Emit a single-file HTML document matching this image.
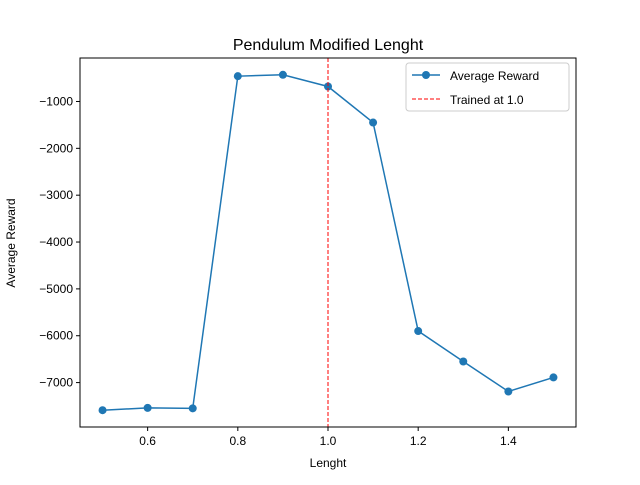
<!DOCTYPE html>
<html><head><meta charset="utf-8"><style>body{margin:0;background:#fff}svg{font-family:"Liberation Sans","DejaVu Sans",sans-serif}</style></head>
<body>
<svg id="c" width="640" height="480"></svg>
<script>
const lengths=[0.5,0.6,0.7,0.8,0.9,1.0,1.1,1.2,1.3,1.4,1.5];
const rewards=[-7590,-7540,-7550,-460,-430,-680,-1450,-5900,-6550,-7190,-6890];
const xTicks=[0.6,0.8,1.0,1.2,1.4];
const yTicks=[-1000,-2000,-3000,-4000,-5000,-6000,-7000];
const trainedAt=1.0;
const L=80,R=576,T=58,B=427;
const ns="http://www.w3.org/2000/svg";
const svg=document.getElementById('c');
const xmin=Math.min(...lengths),xmax=Math.max(...lengths),xr=xmax-xmin;
const ymin=Math.min(...rewards),ymax=Math.max(...rewards),yr=ymax-ymin;
const x0=xmin-0.05*xr,x1=xmax+0.05*xr,y0=ymin-0.05*yr,y1=ymax+0.05*yr;
const X=v=>L+(v-x0)/(x1-x0)*(R-L);
const Y=v=>B-(v-y0)/(y1-y0)*(B-T);
function mk(t,a,txt){const e=document.createElementNS(ns,t);for(const k in a)e.setAttribute(k,a[k]);if(txt!=null)e.textContent=txt;svg.appendChild(e);return e;}
let e;
e=mk('text',{x:328,y:50,'text-anchor':'middle','font-size':16},'Pendulum Modified Lenght');


xTicks.forEach(v=>{const g=X(v);
e=mk('line',{x1:g,x2:g,y1:B,y2:B+4,stroke:'#000'});


e=mk('text',{x:g,y:B+18,'text-anchor':'middle','font-size':12},v.toFixed(1));

});
yTicks.forEach(v=>{const g=Y(v);
e=mk('line',{x1:L-4,x2:L,y1:g,y2:g,stroke:'#000'});


e=mk('text',{x:L-7,y:g+4,'text-anchor':'end','font-size':12},'\u2212'+Math.abs(v));

});
e=mk('text',{x:328,y:467,'text-anchor':'middle','font-size':12},'Lenght');


e=mk('text',{x:15,y:243,'text-anchor':'middle','font-size':12,transform:'rotate(-90 15 243)'},'Average Reward');


e=mk('polyline',{points:lengths.map((v,i)=>X(v)+','+Y(rewards[i])).join(' '),fill:'none',stroke:'#1f77b4','stroke-width':1.5});


lengths.forEach((v,i)=>{e=mk('circle',{cx:X(v),cy:Y(rewards[i]),r:4,fill:'#1f77b4'});

});
e=mk('line',{x1:X(trainedAt),x2:X(trainedAt),y1:T,y2:B,stroke:'#ff0000','stroke-width':1,'stroke-dasharray':'4,2'});


e=mk('rect',{x:L,y:T,width:R-L,height:B-T,fill:'none',stroke:'#000','stroke-width':1});


e=mk('rect',{x:406,y:63,width:163,height:48,rx:3,fill:'#fff',stroke:'#ccc'});


e=mk('line',{x1:412,x2:440,y1:75,y2:75,stroke:'#1f77b4','stroke-width':1.5});


e=mk('circle',{cx:426,cy:75,r:4,fill:'#1f77b4'});


e=mk('text',{x:450,y:80,'font-size':12},'Average Reward');


e=mk('line',{x1:412,x2:440,y1:99,y2:99,stroke:'#ff0000','stroke-dasharray':'4,2'});


e=mk('text',{x:450,y:104,'font-size':12},'Trained at 1.0');


</script>
</body></html>
